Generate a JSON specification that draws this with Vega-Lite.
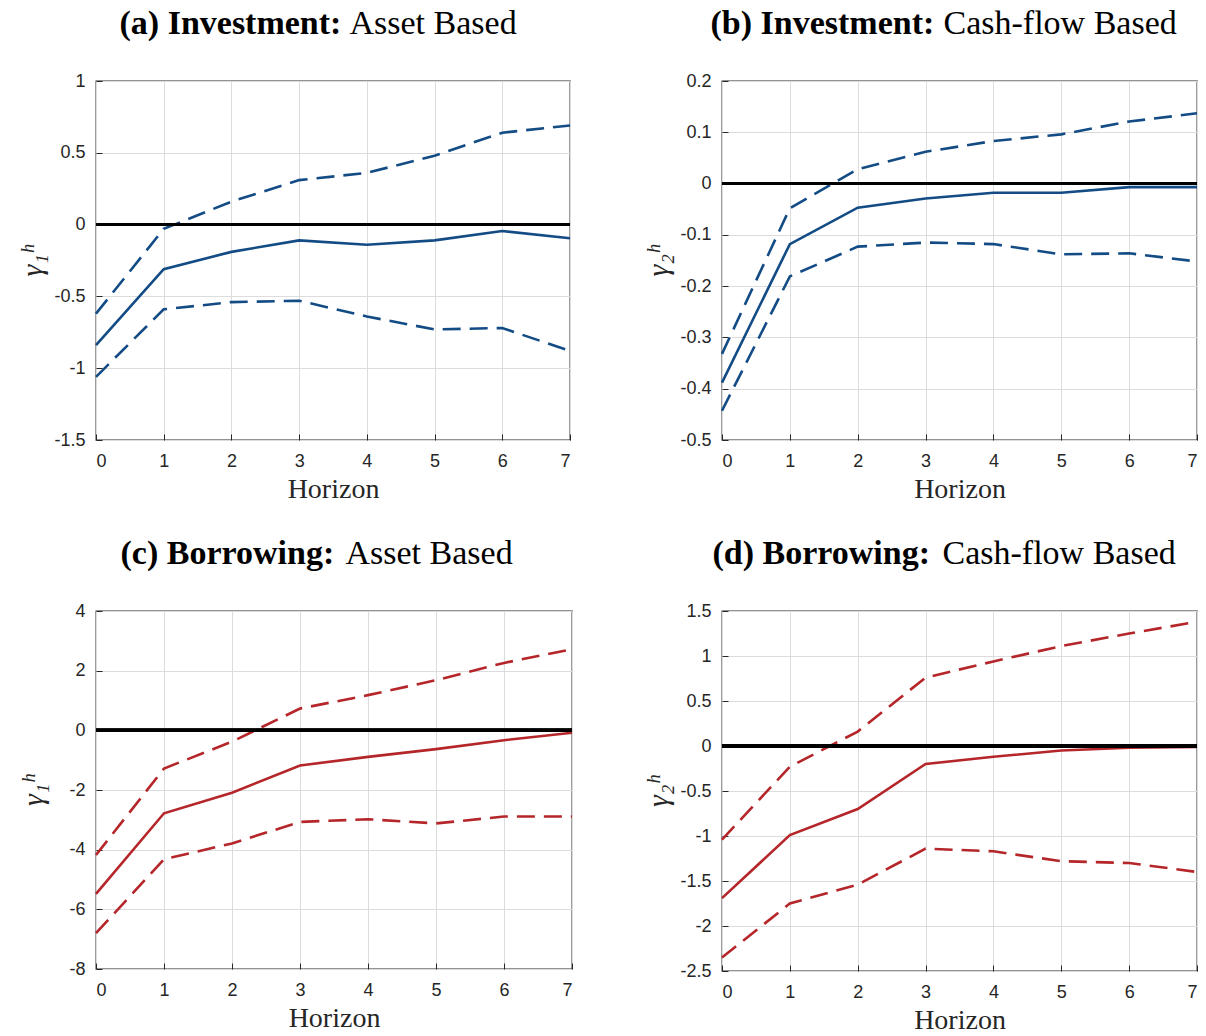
{
  "$schema": "https://vega.github.io/schema/vega-lite/v6.json",
  "background": "white",
  "padding": {"left": 17, "top": 5, "right": 5, "bottom": 5},
  "datasets": {
    "irf": [
      {"panel": "a", "h": 0, "est": -0.84, "lo": -1.06, "hi": -0.62},
      {"panel": "a", "h": 1, "est": -0.31, "lo": -0.59, "hi": -0.03},
      {"panel": "a", "h": 2, "est": -0.19, "lo": -0.54, "hi": 0.16},
      {"panel": "a", "h": 3, "est": -0.11, "lo": -0.53, "hi": 0.31},
      {"panel": "a", "h": 4, "est": -0.14, "lo": -0.64, "hi": 0.36},
      {"panel": "a", "h": 5, "est": -0.11, "lo": -0.73, "hi": 0.48},
      {"panel": "a", "h": 6, "est": -0.045, "lo": -0.72, "hi": 0.64},
      {"panel": "a", "h": 7, "est": -0.095, "lo": -0.88, "hi": 0.69},
      {"panel": "b", "h": 0, "est": -0.388, "lo": -0.443, "hi": -0.332},
      {"panel": "b", "h": 1, "est": -0.118, "lo": -0.181, "hi": -0.048},
      {"panel": "b", "h": 2, "est": -0.047, "lo": -0.123, "hi": 0.028},
      {"panel": "b", "h": 3, "est": -0.029, "lo": -0.115, "hi": 0.062},
      {"panel": "b", "h": 4, "est": -0.018, "lo": -0.118, "hi": 0.083},
      {"panel": "b", "h": 5, "est": -0.018, "lo": -0.138, "hi": 0.096},
      {"panel": "b", "h": 6, "est": -0.007, "lo": -0.136, "hi": 0.121},
      {"panel": "b", "h": 7, "est": -0.007, "lo": -0.152, "hi": 0.137},
      {"panel": "c", "h": 0, "est": -5.48, "lo": -6.8, "hi": -4.18},
      {"panel": "c", "h": 1, "est": -2.78, "lo": -4.32, "hi": -1.28},
      {"panel": "c", "h": 2, "est": -2.09, "lo": -3.79, "hi": -0.38},
      {"panel": "c", "h": 3, "est": -1.18, "lo": -3.07, "hi": 0.73},
      {"panel": "c", "h": 4, "est": -0.89, "lo": -2.98, "hi": 1.18},
      {"panel": "c", "h": 5, "est": -0.63, "lo": -3.12, "hi": 1.68},
      {"panel": "c", "h": 6, "est": -0.33, "lo": -2.89, "hi": 2.26},
      {"panel": "c", "h": 7, "est": -0.08, "lo": -2.89, "hi": 2.72},
      {"panel": "d", "h": 0, "est": -1.69, "lo": -2.35, "hi": -1.04},
      {"panel": "d", "h": 1, "est": -0.99, "lo": -1.75, "hi": -0.23},
      {"panel": "d", "h": 2, "est": -0.7, "lo": -1.54, "hi": 0.16},
      {"panel": "d", "h": 3, "est": -0.2, "lo": -1.14, "hi": 0.76},
      {"panel": "d", "h": 4, "est": -0.12, "lo": -1.17, "hi": 0.94},
      {"panel": "d", "h": 5, "est": -0.05, "lo": -1.28, "hi": 1.11},
      {"panel": "d", "h": 6, "est": -0.02, "lo": -1.3, "hi": 1.25},
      {"panel": "d", "h": 7, "est": -0.01, "lo": -1.4, "hi": 1.38}
    ]
  },
  "config": {
    "view": {"stroke": "#262626", "strokeWidth": 1.3},
    "axis": {
      "labelFont": "Liberation Sans",
      "labelFontSize": 18,
      "labelColor": "#262626",
      "domain": false,
      "ticks": true,
      "tickColor": "#262626",
      "tickSize": -6,
      "tickWidth": 1,
      "gridColor": "#dcdcdc",
      "gridWidth": 1,
      "titleFont": "Liberation Serif",
      "titleFontWeight": "normal",
      "titleColor": "#262626"
    },
    "axisX": {"labelPadding": 18, "titleFontSize": 28, "titlePadding": 5},
    "axisY": {"labelPadding": 17, "titleFontSize": 30, "titleFontStyle": "italic", "titlePadding": 6},
    "axisTop": {
      "labels": false, "ticks": false, "domain": false, "grid": false,
      "titleFont": "Liberation Serif", "titleFontSize": 34, "titleColor": "black",
      "titleFontStyle": "normal", "titleAlign": "left", "titleBaseline": "alphabetic",
      "titleAngle": 0, "titleY": -48
    }
  },
  "concat": [
    {
      "spacing": 67,
      "hconcat": [
        {
          "width": 474, "height": 359,
          "data": {"name": "irf"},
          "transform": [{"filter": "datum.panel == 'a'"}],
          "resolve": {"axis": {"x": "independent"}},
          "layer": [
            {"mark": {"type": "line", "color": "#134B85", "strokeWidth": 2.6}, "encoding": {
              "x": {"field": "h", "type": "quantitative", "scale": {"domain": [0, 7], "nice": false}, "axis": {"values": [0, 1, 2, 3, 4, 5, 6, 7], "title": "Horizon", "labelExpr": "toString(datum.value)"}},
              "y": {"field": "est", "type": "quantitative", "scale": {"domain": [-1.5, 1], "nice": false, "zero": false}, "axis": {"values": [-1.5, -1, -0.5, 0, 0.5, 1], "title": "γ₁ʰ", "labelExpr": "toString(datum.value)"}}}},
            {"mark": {"type": "line", "color": "#134B85", "strokeWidth": 2.6, "strokeDash": [18, 9]}, "encoding": {
              "x": {"field": "h", "type": "quantitative", "scale": {"domain": [0, 7], "nice": false}, "axis": {"orient": "top", "title": "(a) Investment:", "titleFontWeight": "bold", "titleX": 23}},
              "y": {"field": "lo", "type": "quantitative"}}},
            {"mark": {"type": "line", "color": "#134B85", "strokeWidth": 2.6, "strokeDash": [18, 9]}, "encoding": {
              "x": {"field": "h", "type": "quantitative", "scale": {"domain": [0, 7], "nice": false}, "axis": {"orient": "top", "title": "Asset Based", "titleFontWeight": "normal", "titleX": 253}},
              "y": {"field": "hi", "type": "quantitative"}}},
            {"mark": {"type": "rule", "color": "black", "strokeWidth": 3}, "encoding": {"y": {"datum": 0}}}
          ]
        },
        {
          "width": 475, "height": 359,
          "data": {"name": "irf"},
          "transform": [{"filter": "datum.panel == 'b'"}],
          "resolve": {"axis": {"x": "independent"}},
          "layer": [
            {"mark": {"type": "line", "color": "#134B85", "strokeWidth": 2.6}, "encoding": {
              "x": {"field": "h", "type": "quantitative", "scale": {"domain": [0, 7], "nice": false}, "axis": {"values": [0, 1, 2, 3, 4, 5, 6, 7], "title": "Horizon", "labelExpr": "toString(datum.value)"}},
              "y": {"field": "est", "type": "quantitative", "scale": {"domain": [-0.5, 0.2], "nice": false, "zero": false}, "axis": {"values": [-0.5, -0.4, -0.3, -0.2, -0.1, 0, 0.1, 0.2], "title": "γ₂ʰ", "labelExpr": "toString(datum.value)"}}}},
            {"mark": {"type": "line", "color": "#134B85", "strokeWidth": 2.6, "strokeDash": [18, 9]}, "encoding": {
              "x": {"field": "h", "type": "quantitative", "scale": {"domain": [0, 7], "nice": false}, "axis": {"orient": "top", "title": "(b) Investment:", "titleFontWeight": "bold", "titleX": -12}},
              "y": {"field": "lo", "type": "quantitative"}}},
            {"mark": {"type": "line", "color": "#134B85", "strokeWidth": 2.6, "strokeDash": [18, 9]}, "encoding": {
              "x": {"field": "h", "type": "quantitative", "scale": {"domain": [0, 7], "nice": false}, "axis": {"orient": "top", "title": "Cash-flow Based", "titleFontWeight": "normal", "titleX": 221}},
              "y": {"field": "hi", "type": "quantitative"}}},
            {"mark": {"type": "rule", "color": "black", "strokeWidth": 3}, "encoding": {"y": {"datum": 0}}}
          ]
        }
      ]
    },
    {
      "spacing": 65,
      "hconcat": [
        {
          "width": 476, "height": 358,
          "data": {"name": "irf"},
          "transform": [{"filter": "datum.panel == 'c'"}],
          "resolve": {"axis": {"x": "independent"}},
          "layer": [
            {"mark": {"type": "line", "color": "#B5262A", "strokeWidth": 2.6}, "encoding": {
              "x": {"field": "h", "type": "quantitative", "scale": {"domain": [0, 7], "nice": false}, "axis": {"values": [0, 1, 2, 3, 4, 5, 6, 7], "title": "Horizon", "labelExpr": "toString(datum.value)"}},
              "y": {"field": "est", "type": "quantitative", "scale": {"domain": [-8, 4], "nice": false, "zero": false}, "axis": {"values": [-8, -6, -4, -2, 0, 2, 4], "title": "γ₁ʰ", "titlePadding": 20, "labelExpr": "toString(datum.value)"}}}},
            {"mark": {"type": "line", "color": "#B5262A", "strokeWidth": 2.6, "strokeDash": [18, 9]}, "encoding": {
              "x": {"field": "h", "type": "quantitative", "scale": {"domain": [0, 7], "nice": false}, "axis": {"orient": "top", "title": "(c) Borrowing:", "titleFontWeight": "bold", "titleX": 24}},
              "y": {"field": "lo", "type": "quantitative"}}},
            {"mark": {"type": "line", "color": "#B5262A", "strokeWidth": 2.6, "strokeDash": [18, 9]}, "encoding": {
              "x": {"field": "h", "type": "quantitative", "scale": {"domain": [0, 7], "nice": false}, "axis": {"orient": "top", "title": "Asset Based", "titleFontWeight": "normal", "titleX": 249}},
              "y": {"field": "hi", "type": "quantitative"}}},
            {"mark": {"type": "rule", "color": "black", "strokeWidth": 3}, "encoding": {"y": {"datum": 0}}}
          ]
        },
        {
          "width": 475, "height": 360,
          "data": {"name": "irf"},
          "transform": [{"filter": "datum.panel == 'd'"}],
          "resolve": {"axis": {"x": "independent"}},
          "layer": [
            {"mark": {"type": "line", "color": "#B5262A", "strokeWidth": 2.6}, "encoding": {
              "x": {"field": "h", "type": "quantitative", "scale": {"domain": [0, 7], "nice": false}, "axis": {"values": [0, 1, 2, 3, 4, 5, 6, 7], "title": "Horizon", "labelExpr": "toString(datum.value)"}},
              "y": {"field": "est", "type": "quantitative", "scale": {"domain": [-2.5, 1.5], "nice": false, "zero": false}, "axis": {"values": [-2.5, -2, -1.5, -1, -0.5, 0, 0.5, 1, 1.5], "title": "γ₂ʰ", "labelExpr": "toString(datum.value)"}}}},
            {"mark": {"type": "line", "color": "#B5262A", "strokeWidth": 2.6, "strokeDash": [18, 9]}, "encoding": {
              "x": {"field": "h", "type": "quantitative", "scale": {"domain": [0, 7], "nice": false}, "axis": {"orient": "top", "title": "(d) Borrowing:", "titleFontWeight": "bold", "titleX": -10}},
              "y": {"field": "lo", "type": "quantitative"}}},
            {"mark": {"type": "line", "color": "#B5262A", "strokeWidth": 2.6, "strokeDash": [18, 9]}, "encoding": {
              "x": {"field": "h", "type": "quantitative", "scale": {"domain": [0, 7], "nice": false}, "axis": {"orient": "top", "title": "Cash-flow Based", "titleFontWeight": "normal", "titleX": 220}},
              "y": {"field": "hi", "type": "quantitative"}}},
            {"mark": {"type": "rule", "color": "black", "strokeWidth": 3}, "encoding": {"y": {"datum": 0}}}
          ]
        }
      ]
    }
  ],
  "columns": 1,
  "align": "none",
  "spacing": 31
}
